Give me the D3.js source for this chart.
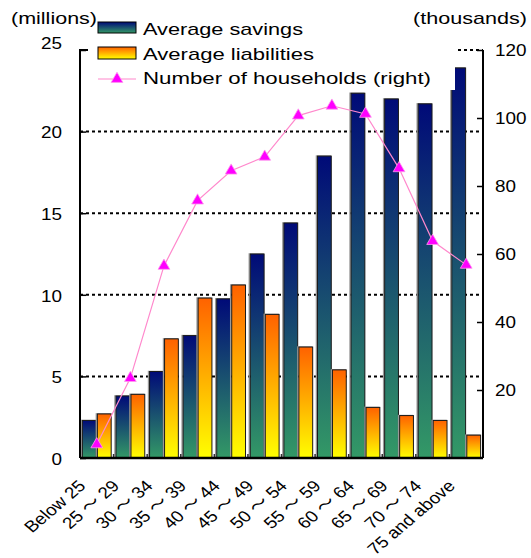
<!DOCTYPE html>
<html>
<head>
<meta charset="utf-8">
<script src="https://cdn.jsdelivr.net/npm/d3@7"></script>
<style>
    body { margin: 0; background: #fff; }
    svg { display: block; font-family: "Liberation Sans", "Noto Sans CJK JP", sans-serif; }
    .wave { font-family: "Noto Sans CJK JP", sans-serif; }
</style>
</head>
<body>
<svg id="chart" width="531" height="558"></svg>
<script>
// data
var categories = ["Below 25", "25 ～ 29", "30 ～ 34", "35 ～ 39", "40 ～ 44", "45 ～ 49",
    "50 ～ 54", "55 ～ 59", "60 ～ 64", "65 ～ 69", "70 ～ 74", "75 and above"];
var savings = [2.3, 3.8, 5.3, 7.5, 9.75, 12.5, 14.4, 18.5, 22.35, 22.0, 21.7, 23.9];
var liabilities = [2.7, 3.9, 7.3, 9.8, 10.6, 8.8, 6.8, 5.4, 3.1, 2.6, 2.3, 1.4];
var households = [4, 23.5, 56.5, 75.7, 84.5, 88.6, 100.7, 103.6, 101.2, 85.2, 63.8, 56.8];
var leftTicks = [0, 5, 10, 15, 20, 25];
var rightTicks = [20, 40, 60, 80, 100, 120];
var seriesNames = ["Average savings", "Average liabilities", "Number of households (right)"];

var svg = d3.select("#chart");

var margin = {top: 50, left: 80, bottom: 100, right: 48},
    width = 531, height = 558;

// the source picture is stretched sideways, so text gets a horizontal scale too
var stretch = 1.18;

var x = d3.scaleBand()
    .domain(categories)
    .range([margin.left, width - margin.right]);

var xs = d3.scaleBand()
    .domain(["savings", "liabilities"])
    .range([0, x.bandwidth()])
    .paddingInner(0.08)
    .paddingOuter(0.16);

var yL = d3.scaleLinear().domain([0, 25]).range([height - margin.bottom, margin.top]);
var yR = d3.scaleLinear().domain([0, 120]).range([height - margin.bottom, margin.top]);

var defs = svg.append("defs");
function grad(id, top, bottom) {
    var g = defs.append("linearGradient").attr("id", id)
        .attr("x1", 0).attr("y1", 0).attr("x2", 0).attr("y2", 1);
    g.append("stop").attr("offset", "0%").attr("stop-color", top);
    g.append("stop").attr("offset", "100%").attr("stop-color", bottom);
}
grad("gSav", "#000a78", "#339966");
grad("gLia", "#ff6200", "#ffff00");

// dotted grid (left scale)
svg.append("g")
    .selectAll("line")
    .data(leftTicks.slice(1))
    .enter().append("line")
    .attr("x1", margin.left).attr("x2", width - margin.right)
    .attr("y1", d => yL(d)).attr("y2", d => yL(d))
    .attr("stroke", "#000")
    .attr("stroke-width", 2)
    .attr("stroke-dasharray", "3,3");

// bars
var bars = svg.append("g");
var rows = categories.map(function(c, i) {
    return {cat: c, savings: savings[i], liabilities: liabilities[i]};
});

function drawBars(key, fill) {
    var sel = bars.selectAll("rect." + key)
        .data(rows)
        .enter();
    sel.append("rect")
        .attr("class", key + "-shadow")
        .attr("x", d => x(d.cat) + xs(key) - 1)
        .attr("y", d => yL(d[key]))
        .attr("width", xs.bandwidth())
        .attr("height", d => yL(0) - yL(d[key]))
        .attr("fill", "none")
        .attr("stroke", "#999")
        .attr("stroke-width", 1.5);
    sel.append("rect")
        .attr("class", key)
        .attr("x", d => x(d.cat) + xs(key))
        .attr("y", d => yL(d[key]))
        .attr("width", xs.bandwidth())
        .attr("height", d => yL(0) - yL(d[key]))
        .attr("fill", fill)
        .attr("stroke", "#1a1a1a")
        .attr("stroke-width", 1);
}
drawBars("savings", "url(#gSav)");
drawBars("liabilities", "url(#gLia)");

// households line
var line = d3.line()
    .x((d, i) => x(categories[i]) + x.bandwidth() / 2)
    .y(d => yR(d));

svg.append("path")
    .datum(households)
    .attr("d", line)
    .attr("fill", "none")
    .attr("stroke", "#ff88cc")
    .attr("stroke-width", 1.2);

var tri = d3.symbol().type(d3.symbolTriangle).size(60);
svg.append("g")
    .selectAll("path")
    .data(households)
    .enter().append("path")
    .attr("d", tri)
    .attr("transform", (d, i) => `translate(${x(categories[i]) + x.bandwidth() / 2},${yR(d)})`)
    .attr("fill", "#ff00ff")
    .attr("stroke", "#ff99ee")
    .attr("stroke-width", 0.8);

// axes
var leftAxis = svg.append("g")
    .attr("transform", `translate(${margin.left},0)`)
    .call(d3.axisRight(yL).tickValues(leftTicks).tickSize(6).tickFormat(""));
leftAxis.select(".domain").attr("stroke-width", 2).attr("d", `M6,${yL(25)}H0V${yL(0)}`);
leftAxis.selectAll("line").attr("stroke-width", 1.5);

svg.append("g")
    .selectAll("text")
    .data(leftTicks)
    .enter().append("text")
    // top label sits a little higher than its tick, as in the source
    .attr("transform", d => `translate(62,${d === 25 ? yL(d) - 7 : yL(d) + 1}) scale(${stretch},1)`)
    .attr("dy", "0.36em")
    .attr("text-anchor", "end")
    .attr("font-size", 16)
    .text(d => d);

var rightAxis = svg.append("g")
    .attr("transform", `translate(${width - margin.right},0)`)
    .call(d3.axisLeft(yR).tickValues(rightTicks).tickSize(6).tickFormat(""));
rightAxis.select(".domain").attr("stroke-width", 2).attr("d", `M0,${yR(120)}V${yR(0)}`);
rightAxis.selectAll("line").attr("stroke-width", 1.5);

svg.append("g")
    .selectAll("text")
    .data(rightTicks)
    .enter().append("text")
    .attr("transform", d => `translate(${width - margin.right + 12},${yR(d)}) scale(${stretch},1)`)
    .attr("dy", "0.36em")
    .attr("font-size", 16)
    .text(d => d);

// bottom axis with group separators
var base = height - margin.bottom;
svg.append("g")
    .selectAll("line")
    .data(categories.slice(1))
    .enter().append("line")
    .attr("x1", d => x(d)).attr("x2", d => x(d))
    .attr("y1", base).attr("y2", base - 4)
    .attr("stroke", "#333")
    .attr("stroke-width", 1.5);

svg.append("line")
    .attr("x1", margin.left).attr("x2", width - margin.right)
    .attr("y1", base).attr("y2", base)
    .attr("stroke", "#000")
    .attr("stroke-width", 2.5);

var xLabels = svg.append("g")
    .selectAll("text")
    .data(categories)
    .enter().append("text")
    .attr("transform", d => `translate(${x(d) + x.bandwidth() / 2 - 10},${base + 29}) scale(${stretch},1) rotate(-45)`)
    .attr("text-anchor", "end")
    .attr("font-size", 16);

// full-width wave dash drawn with the CJK font
xLabels.each(function(d) {
    var t = d3.select(this);
    var parts = d.split("～");
    parts.forEach(function(p, i) {
        if (i > 0) t.append("tspan").attr("class", "wave").text("～");
        t.append("tspan").text(p);
    });
});

// legend
var legend = svg.append("g");
legend.append("rect")
    .attr("x", 88).attr("y", 10).attr("width", 367).attr("height", 80)
    .attr("fill", "#fff");

var lcy = [28, 53, 79],
    lbase = [35, 60, 84],
    llen = [160, 171, 288];
legend.append("rect").attr("x", 98).attr("y", 22).attr("width", 38).attr("height", 11)
    .attr("fill", "url(#gSav)").attr("stroke", "#000");
legend.append("rect").attr("x", 98).attr("y", 47).attr("width", 38).attr("height", 12)
    .attr("fill", "url(#gLia)").attr("stroke", "#000");
legend.append("line").attr("x1", 98).attr("x2", 136).attr("y1", lcy[2]).attr("y2", lcy[2])
    .attr("stroke", "#ff88cc").attr("stroke-width", 1.2);
legend.append("path").attr("d", tri).attr("transform", `translate(117,${lcy[2]})`)
    .attr("fill", "#ff00ff").attr("stroke", "#ff99ee").attr("stroke-width", 0.8);

legend.selectAll("text.lg")
    .data(seriesNames)
    .enter().append("text")
    .attr("class", "lg")
    .attr("x", 143)
    .attr("y", (d, i) => lbase[i])
    .attr("font-size", 17)
    .attr("textLength", (d, i) => llen[i])
    .attr("lengthAdjust", "spacingAndGlyphs")
    .text(d => d);

// unit labels
svg.append("text").attr("x", 11).attr("y", 24).attr("font-size", 17)
    .attr("textLength", 86).attr("lengthAdjust", "spacingAndGlyphs").text("(millions)");
svg.append("text").attr("x", 413).attr("y", 24).attr("font-size", 17)
    .attr("textLength", 114).attr("lengthAdjust", "spacingAndGlyphs").text("(thousands)");
</script>
</body>
</html>
